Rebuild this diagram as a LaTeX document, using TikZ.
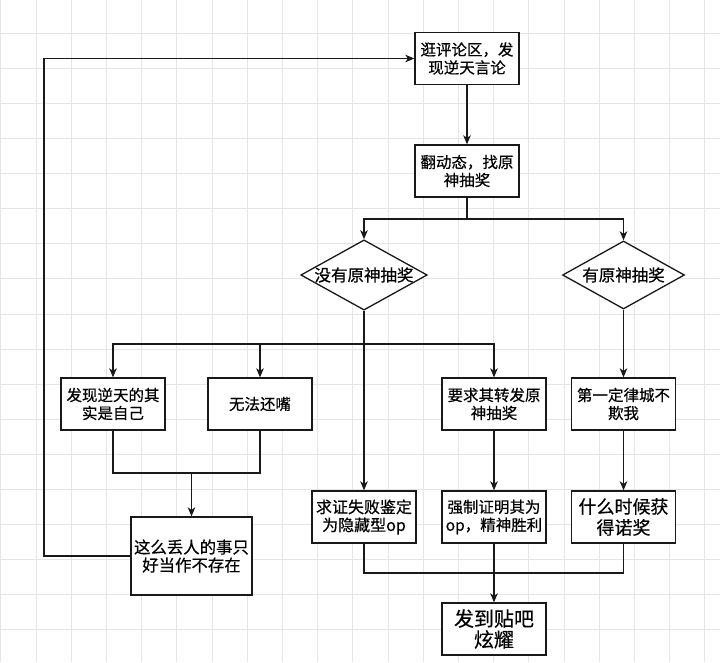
\documentclass[tikz,border=0pt]{standalone}
\usepackage{fontspec}
\setmainfont{Noto Sans CJK SC}[FakeBold=0.4]
\usetikzlibrary{shapes.geometric,arrows.meta}
\begin{document}
\begin{tikzpicture}[x=1pt,y=-1pt,
  gridc/.style={line width=0.8pt, draw=black!10},
  box/.style={draw=black!90, line width=1.3pt, minimum width=104pt, minimum height=52pt, inner sep=0pt, align=center, font=\fontsize{15.5}{18}\selectfont, fill=white},
  dia/.style={diamond, aspect=1.8, draw=black!90, line width=1.3pt, minimum width=122pt, minimum height=68pt, inner sep=0pt, fill=white, font=\fontsize{16.5}{18}\selectfont},
  ln/.style={line width=1.3pt, draw=black!90},
  arr/.style={ln, -{Stealth[length=9pt,width=7.5pt,inset=2.5pt]}}]
\useasboundingbox (0,0) rectangle (720,662);
\fill[white] (0,0) rectangle (720,662);
\foreach \i in {0,...,20} \draw[gridc] ({0.7+35.2*\i},0) -- ({0.7+35.2*\i},662);
\foreach \j in {1,...,18} \draw[gridc] (0,{-2+35.1*\j}) -- (720,{-2+35.1*\j});

\node[box] (b1) at (467,58.5) {逛评论区，发\\现逆天言论};
\node[box] (b2) at (467,171) {翻动态，找原\\神抽奖};
\node[dia] (d1) at (364,275) {没有原神抽奖};
\node[dia] (d2) at (623.5,275) {有原神抽奖};
\node[box] (n1) at (113,404) {发现逆天的其\\实是自己};
\node[box] (n2) at (260,404) {无法还嘴};
\node[box] (n3) at (494,404) {要求其转发原\\神抽奖};
\node[box] (n5) at (623.5,404) {第一定律城不\\欺我};
\node[box, font=\fontsize{16}{18}\selectfont] (n4) at (364,517) {求证失败鉴定\\为隐藏型op};
\node[box] (n7) at (494,517) {强制证明其为\\op，精神胜利};
\node[box, font=\fontsize{18}{21}\selectfont] (n8) at (623.5,517) {什么时候获\\得诺奖};
\node[box, minimum width=121pt, minimum height=78pt, font=\fontsize{16.4}{18}\selectfont] (dz) at (191.5,556) {这么丢人的事只\\好当作不存在};
\node[box, font=\fontsize{20}{21}\selectfont] (fin) at (494,629) {发到贴吧\\炫耀};

\draw[arr] (b1) -- (b2);
\coordinate (s1) at (467,219);
\draw[ln] (b2.south) -- (s1);
\draw[arr] (s1) -| (d1.north);
\draw[arr] (s1) -| (d2.north);
\coordinate (s2) at (364,344);
\draw[arr] (d1.south) -- (n4.north);
\draw[arr] (s2) -| (n1.north);
\draw[arr] (s2) -| (n2.north);
\draw[arr] (s2) -| (n3.north);
\draw[arr] (d2.south) -- (n5.north);
\draw[arr] (n5) -- (n8);
\draw[arr] (n3) -- (n7);
\coordinate (m1) at (191.5,473);
\draw[ln] (n1.south) |- (m1) -| (n2.south);
\draw[arr] (m1) -- (dz.north);
\coordinate (m2) at (494,573);
\draw[ln] (n4.south) |- (m2) -| (n8.south);
\draw[arr] (n7.south) -- (fin.north);
\coordinate (lp) at (44,556);
\draw[arr] (dz.west) -- (lp) |- (b1.west);
\end{tikzpicture}
\end{document}
